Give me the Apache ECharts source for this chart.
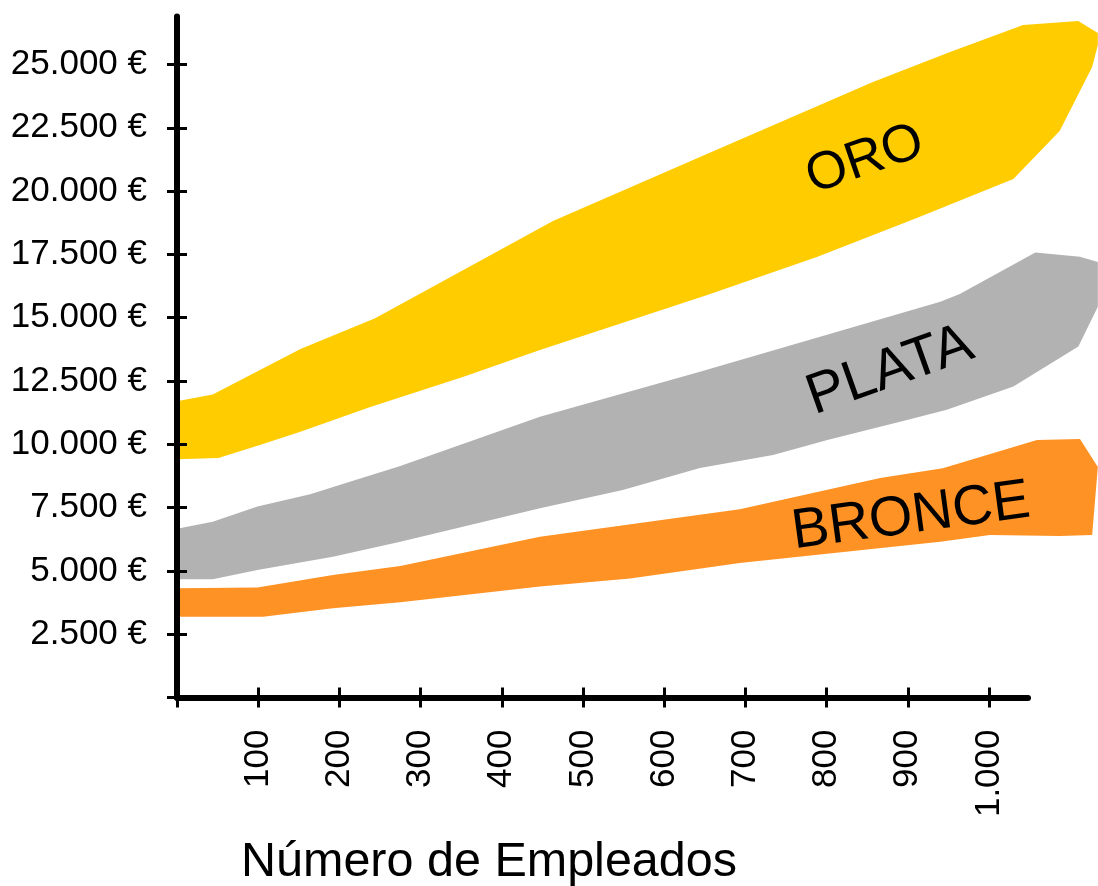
<!DOCTYPE html>
<html><head><meta charset="utf-8">
<script src="https://cdn.jsdelivr.net/npm/echarts@6/dist/echarts.min.js"></script>
<style>html,body{margin:0;padding:0;background:#fff}#c{width:1098px;height:886px}</style>
</head><body><div id="c"></div>
<script>
// ---- data ----
const xTicks = [0, 100, 200, 300, 400, 500, 600, 700, 800, 900, 1000];
const xLabelValues = [100, 200, 300, 400, 500, 600, 700, 800, 900, 1000];
const yTicks = [0, 2500, 5000, 7500, 10000, 12500, 15000, 17500, 20000, 22500, 25000];
const yLabelValues = [2500, 5000, 7500, 10000, 12500, 15000, 17500, 20000, 22500, 25000];
const bandNames = ['ORO', 'PLATA', 'BRONCE'];
const axisTitle = 'Número de Empleados';

// band outlines: [employees, euros]; upper edge (incl. right cap) and lower edge, left -> right
const oroUpper = [[0,11700],[44,11970],[152,13760],[244,14980],[463,18820],[644,21350],[857,24310],[952,25490],[1042,26560],[1110,26720],[1134,26240],[1134,25770]];
const oroLower = [[0,9410],[51,9460],[102,9970],[152,10500],[238,11470],[352,12660],[447,13720],[653,15900],[788,17400],[911,18940],[1030,20480],[1087,22370],[1127,24900]];
const plataUpper = [[0,6660],[44,6940],[99,7540],[164,8030],[204,8430],[275,9140],[447,11090],[644,12870],[940,15630],[964,15940],[1057,17580],[1112,17410],[1134,17200],[1134,15430]];
const plataLower = [[0,4670],[44,4670],[99,5040],[192,5560],[275,6150],[447,7470],[549,8200],[644,9060],[734,9580],[801,10170],[899,10960],[948,11360],[1030,12280],[1110,13860]];
const bronceUpper = [[0,4310],[99,4340],[192,4840],[275,5190],[447,6350],[693,7430],[866,8670],[943,9050],[1059,10170],[1112,10210],[1134,9100]];
const bronceLower = [[0,3190],[106,3190],[192,3520],[275,3760],[447,4380],[558,4700],[693,5310],[940,6150],[1001,6420],[1087,6380],[1127,6420]];

// ---- styling ----
const FONT = '"Liberation Sans", Arial, sans-serif';
const bands = [
  {upper: oroUpper, lower: oroLower, color: '#FFCC00'},
  {upper: plataUpper, lower: plataLower, color: '#B2B2B2'},
  {upper: bronceUpper, lower: bronceLower, color: '#FF9224'}
];
const fmt = v => String(v).replace(/\B(?=(\d{3})+(?!\d))/g, '.');
const GRID = {left: 177, top: 16.4, width: 851, height: 681.1, containLabel: false, outerBoundsMode: 'none'};
const tickStyle = {color: '#000', width: 3};

const chart = echarts.init(document.getElementById('c'), null, {renderer: 'canvas'});
const option = {
  animation: false,
  backgroundColor: '#fff',
  grid: [Object.assign({}, GRID), Object.assign({}, GRID)],
  xAxis: [
    {type: 'value', gridIndex: 0, min: 0, max: 1048, z: 5,
     axisLine: {show: true, lineStyle: {color: '#000', width: 6, cap: 'round'}},
     axisTick: {show: true, inside: false, length: 10, lineStyle: tickStyle, customValues: xTicks},
     axisLabel: {show: true, rotate: 90, margin: 32, fontSize: 35, color: '#000', fontFamily: FONT,
                 customValues: xLabelValues, formatter: fmt},
     splitLine: {show: false}},
    {type: 'value', gridIndex: 1, min: 0, max: 1048, z: 5,
     axisLine: {show: false},
     axisTick: {show: true, inside: true, length: 10, lineStyle: tickStyle, customValues: xTicks},
     axisLabel: {show: false}, splitLine: {show: false}}
  ],
  yAxis: [
    {type: 'value', gridIndex: 0, min: 0, max: 26900, z: 5,
     axisLine: {show: true, lineStyle: {color: '#000', width: 6, cap: 'round'}},
     axisTick: {show: true, inside: false, length: 10, lineStyle: tickStyle, customValues: yTicks},
     axisLabel: {show: true, margin: 30, fontSize: 35, color: '#000', fontFamily: FONT,
                 customValues: yLabelValues, formatter: v => fmt(v) + ' €'},
     splitLine: {show: false}},
    {type: 'value', gridIndex: 1, min: 0, max: 26900, z: 5,
     axisLine: {show: false},
     axisTick: {show: true, inside: true, length: 10, lineStyle: tickStyle, customValues: yTicks},
     axisLabel: {show: false}, splitLine: {show: false}}
  ],
  series: [{
    type: 'custom', xAxisIndex: 0, yAxisIndex: 0, z: 2, clip: false,
    data: bands.map((b, i) => [i, 0]),
    renderItem: function (params, api) {
      const b = bands[params.dataIndex];
      const pts = b.upper.concat(b.lower.slice().reverse()).map(p => api.coord(p));
      return {type: 'polygon', shape: {points: pts}, style: {fill: b.color}};
    }
  }],
  graphic: [
    {type: 'text', x: 865, y: 160, rotation: 19 * Math.PI / 180, z: 10,
     style: {text: bandNames[0], fontSize: 53, fontFamily: FONT, fill: '#000', align: 'center', verticalAlign: 'middle'}},
    {type: 'text', x: 890, y: 371, rotation: 19.5 * Math.PI / 180, z: 10,
     style: {text: bandNames[1], fontSize: 57, fontFamily: FONT, fill: '#000', align: 'center', verticalAlign: 'middle'}},
    {type: 'text', x: 911, y: 517, rotation: 7.7 * Math.PI / 180, z: 10,
     style: {text: bandNames[2], fontSize: 56, fontFamily: FONT, fill: '#000', align: 'center', verticalAlign: 'middle'}},
    {type: 'text', x: 241, y: 863, z: 10,
     style: {text: axisTitle, fontSize: 48.5, fontFamily: FONT, fill: '#000', align: 'left', verticalAlign: 'middle'}}
  ]
};
chart.setOption(option);
</script>
</body></html>
